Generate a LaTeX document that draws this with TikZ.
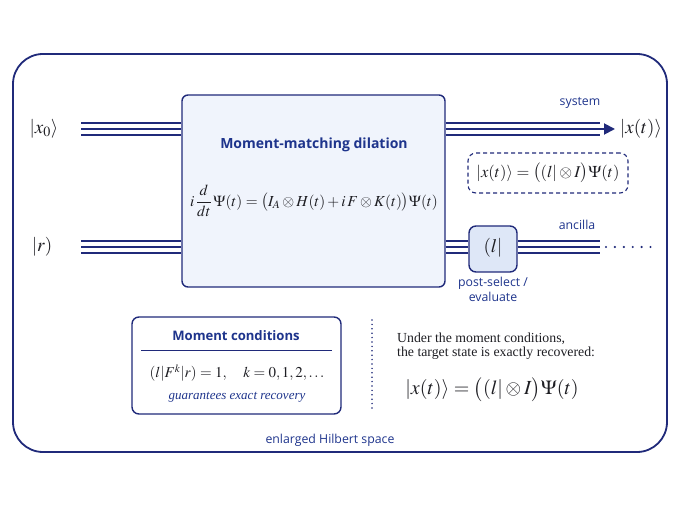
\documentclass[tikz,border=0pt]{standalone}
\usepackage{amsmath}
\usepackage[no-math]{fontspec}
\usepackage{mathptmx}
\setmainfont{Liberation Serif}
\setsansfont{Open Sans}
\usetikzlibrary{arrows.meta,calc,positioning}
\definecolor{navy}{RGB}{32,42,122}
\definecolor{titleblue}{RGB}{30,52,140}
\definecolor{boxfill}{RGB}{240,244,252}
\definecolor{lfill}{RGB}{222,231,247}
\definecolor{ink}{RGB}{30,30,35}
\newcommand{\fs}[1]{\fontsize{#1pt}{1.2\dimexpr #1pt\relax}\selectfont}
\newcommand{\triwire}[2]{\foreach \d in {-6,0,6}{\draw[wire] ($(#1)+(0,\d)$) -- ($(#2)+(0,\d)$);}}
\begin{document}
\begin{tikzpicture}[x=1pt,y=-1pt,
  outerbox/.style={draw=navy,line width=1.8pt,rounded corners=30pt},
  dilbox/.style={draw=navy,line width=1.4pt,fill=boxfill,rounded corners=6pt,minimum width=263pt,minimum height=192pt,inner sep=0pt},
  lbox/.style={draw=navy,line width=1.4pt,fill=lfill,rounded corners=7pt,minimum width=48pt,minimum height=46pt,inner sep=0pt},
  mcbox/.style={draw=navy,line width=1.4pt,fill=white,rounded corners=7pt,minimum width=209pt,minimum height=97pt,inner sep=0pt},
  dashbox/.style={draw=navy,line width=1.1pt,dash pattern=on 4pt off 3pt,rounded corners=8pt,minimum width=160pt,minimum height=40pt,inner sep=0pt},
  wire/.style={draw=navy,line width=1.9pt},
  sanslabel/.style={font=\sffamily\fs{12.3},text=titleblue,inner sep=0pt},
  titlelabel/.style={font=\sffamily\bfseries\fs{14},text=titleblue,inner sep=0pt},
  mathlabel/.style={text=ink,inner sep=0pt}]
\useasboundingbox (0,0) rectangle (680,510);
\node[outerbox,minimum width=654pt,minimum height=398pt] (outer) at (340,253) {};
% main box
\node[dilbox] (dil) at (313.5,191) {};
\node[titlelabel] (dtitle) at (314,145) {Moment-matching dilation};
\node[mathlabel,font=\fs{15.3}] (deq) at (314,201) {$i\,\dfrac{d}{dt}\,\Psi(t)=\big(I_A\otimes H(t)+i\,F\otimes K(t)\big)\Psi(t)$};
% input labels
\node[mathlabel,font=\fs{19}] (x0) at (44,129) {$\lvert x_0\rangle$};
\node[mathlabel,font=\fs{19}] (r) at (42,247) {$\lvert r)$};
\coordinate (x0in) at (81,129);
\coordinate (rin) at (81,247);
\triwire{x0in}{x0in -| dil.west}
\triwire{rin}{rin -| dil.west}
% system output
\coordinate (sysend) at (600,129);
\coordinate (systip) at (615,129);
\draw[wire] ($(sysend -| dil.east)+(0,-6)$) -- ($(sysend)+(0,-6)$);
\draw[wire] ($(sysend -| dil.east)+(0,6)$) -- ($(sysend)+(0,6)$);
\draw[wire,-{Triangle[length=11pt,width=11pt]}] (sysend -| dil.east) -- (systip);
\node[mathlabel,font=\fs{19}] (xt) at (641,129) {$\lvert x(t)\rangle$};
\node[sanslabel] (syslab) at (580,103) {system};
\node[dashbox] (dash) at (548,173) {};
\node[mathlabel,font=\fs{16.5}] (dasheq) at (548,173) {$\lvert x(t)\rangle=\big((l\rvert\otimes I\big)\Psi(t)$};
% ancilla
\node[lbox] (lb) at (493,249) {};
\node[mathlabel,font=\fs{19}] (lbt) at (493,248) {$(l\rvert$};
\coordinate (ancend) at (600,247);
\coordinate (ancdots) at (606,247);
\coordinate (ancdotsend) at (651,247);
\triwire{rin -| dil.east}{rin -| lb.west}
\triwire{rin -| lb.east}{ancend}
\draw[draw=navy,line width=2.4pt,line cap=round,dash pattern=on 0pt off 8.9pt] (ancdots) -- (ancdotsend);
\node[sanslabel] (anclab) at (577,225) {ancilla};
\node[sanslabel,align=center,below=4pt of lb] (ps) {post-select /\\evaluate};
% moment conditions
\node[mcbox] (mc) at (236.5,365.5) {};
\node[titlelabel,font=\sffamily\bfseries\fs{13.1}] (mctitle) at (236,336) {Moment conditions};
\coordinate (rulel) at (141,351);
\coordinate (ruler) at (332,351);
\draw[navy,line width=1pt] (rulel) -- (ruler);
\node[mathlabel,font=\fs{15}] (mceq) at (237,373) {$(l\rvert F^k\lvert r)=1,\quad k=0,1,2,\ldots$};
\node[inner sep=0pt,text=titleblue,font=\itshape\fs{13}] (mcit) at (237,397) {guarantees exact recovery};
% dotted separator
\coordinate (dtop) at (372,320);
\coordinate (dbot) at (372,408);
\draw[draw=navy,line width=1.7pt,line cap=round,dash pattern=on 0pt off 4.4pt] (dtop) -- (dbot);
% conclusion text
\node[anchor=west,align=left,inner sep=0pt,text=ink,font=\fs{13.8}] (ctext) at (397,346) {Under the moment conditions,\\[-2.5pt]the target state is exactly recovered:};
\node[mathlabel,font=\fs{20}] (bigeq) at (492,390) {$\lvert x(t)\rangle=\big((l\rvert\otimes I\big)\Psi(t)$};
\node[sanslabel] (hil) at (330,440) {enlarged Hilbert space};
\end{tikzpicture}
\end{document}
